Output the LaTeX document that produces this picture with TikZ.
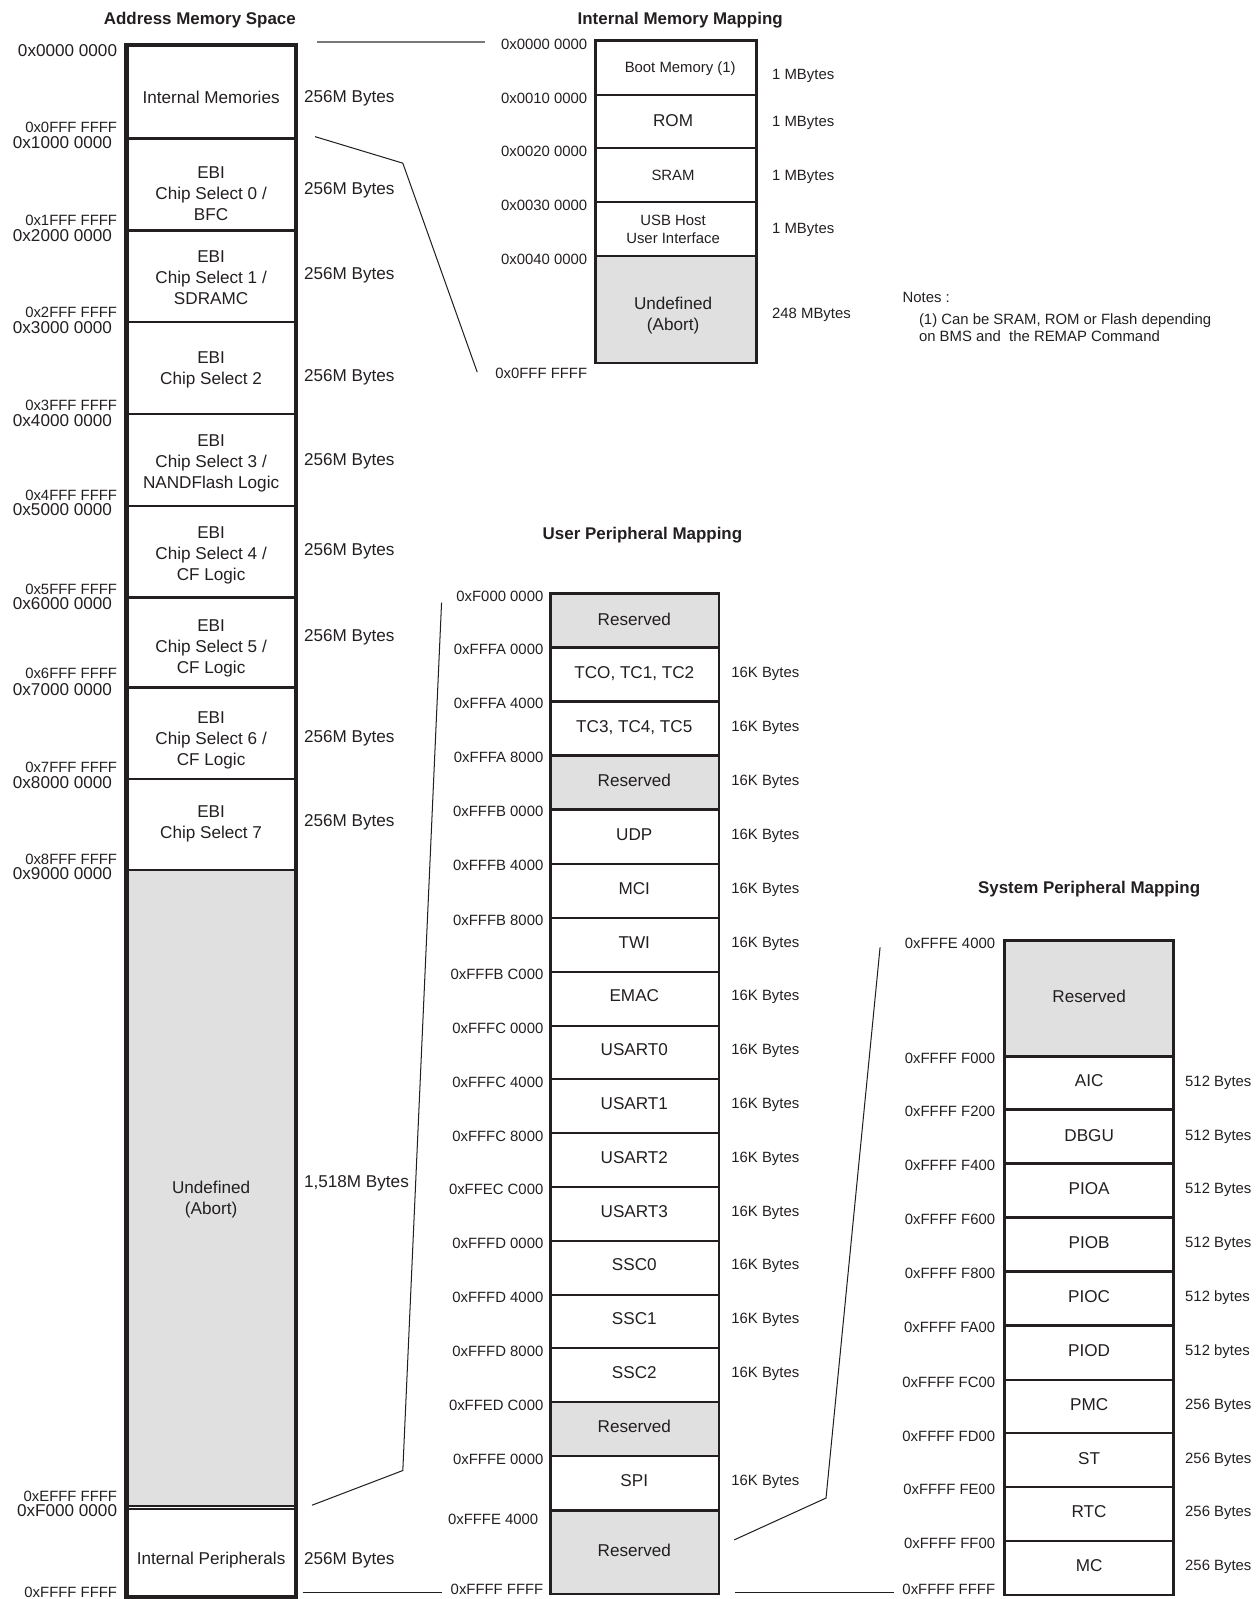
\documentclass[tikz,border=0pt]{standalone}
\usepackage{fontspec}
\setmainfont{Liberation Sans}
\definecolor{ink}{RGB}{35,31,32}
\definecolor{resgray}{RGB}{224,224,224}
\definecolor{leadgray}{RGB}{120,120,120}

\begin{document}
\begin{tikzpicture}[x=1pt, y=-1pt,
                    big/.style={font=\fontsize{16.8}{20.5}\selectfont, inner sep=0pt, text=ink, text depth=0pt},
                    small/.style={font=\fontsize{14.6}{17.5}\selectfont, inner sep=0pt, text=ink, text depth=0pt},
                    head/.style={font=\fontsize{16.6}{20}\selectfont\bfseries, inner sep=0pt, text=ink},
                    cellrule/.style={draw=ink, line width=2.4pt},
                    frame/.style={draw=ink, line width=2.6pt},
                    zoomline/.style={draw=ink, line width=1pt},
                    reserved/.style={fill=resgray},
                ]
\useasboundingbox (0,0) rectangle (1232,1568);

% Address Memory Space
\node[head] (ams) at (196,20) {Address Memory Space};
\fill[reserved] (124,853) rectangle (290,1478);
\foreach \y in {136,226,316,406,496,586,674,764,853}
    \draw[cellrule] (124,\y) -- (290,\y);
\draw[draw=ink, line width=1.8pt] (124,1476.5) -- (290,1476.5) (124,1480) -- (290,1480);
\draw[draw=ink, line width=4.2pt] (124,44) rectangle (290,1566);
\foreach \y/\txt [count=\i] in {95/Internal Memories,
                                190/{EBI\\Chip Select 0 /\\BFC},
                                272/{EBI\\Chip Select 1 /\\SDRAMC},
                                361/{EBI\\Chip Select 2},
                                453/{EBI\\Chip Select 3 /\\NANDFlash Logic},
                                543/{EBI\\Chip Select 4 /\\CF Logic},
                                634/{EBI\\Chip Select 5 /\\CF Logic},
                                724/{EBI\\Chip Select 6 /\\CF Logic},
                                806/{EBI\\Chip Select 7},
                                1175/{Undefined\\(Abort)},
                                1528/Internal Peripherals}
    \node[big, align=center] (ams-\i) at (207,\y) {\txt};
\foreach \y/\txt [count=\i] in {95/256M Bytes, 185/256M Bytes, 268/256M Bytes,
                                368/256M Bytes, 451/256M Bytes, 539/256M Bytes,
                                623/256M Bytes, 722/256M Bytes, 805/256M Bytes,
                                1159/{1,518M Bytes}, 1528/256M Bytes}
    \node[big, anchor=west] (ams-size-\i) at (298,\y) {\txt};
\node[big, anchor=east] (ams-a0) at (115,50) {0x0000 0000};
\foreach \ya/\yb/\hi/\lo [count=\i] in {125/140/0/1, 216/231/1/2, 306/321/2/3,
                                        397/412/3/4, 486/500/4/5, 578/592/5/6,
                                        660/676/6/7, 752/767/7/8, 843/857/8/9} {
    \node[small, anchor=east] (ams-end-\i) at (115,\ya) {0x\hi FFF FFFF};
    \node[big, anchor=east] (ams-start-\i) at (110,\yb) {0x\lo 000 0000};
}
\node[small, anchor=east] (ams-end-e) at (115,1467) {0xEFFF FFFF};
\node[big, anchor=east] (ams-start-f) at (115,1481) {0xF000 0000};
\node[small, anchor=east] (ams-end-f) at (115,1561) {0xFFFF FFFF};

% Internal Memory Mapping
\node[head] (imm) at (667,20) {Internal Memory Mapping};
\fill[reserved] (584,251) rectangle (742,356);
\foreach \y in {93,145,198,251}
    \draw[cellrule] (584,\y) -- (742,\y);
\draw[frame] (584,40) rectangle (742,356);
\node[small] (imm-1) at (667,66) {Boot Memory (1)};
\node[big] (imm-2) at (660,118) {ROM};
\node[small] (imm-3) at (660,172) {SRAM};
\node[small, align=center] (imm-4) at (660,225) {USB Host\\User Interface};
\node[big, align=center] (imm-5) at (660,308) {Undefined\\(Abort)};
\foreach \y/\txt [count=\i] in {43/0x0000 0000, 96/0x0010 0000, 148/0x0020 0000,
                                201/0x0030 0000, 254/0x0040 0000, 366/0x0FFF FFFF}
    \node[small, anchor=east] (imm-a\i) at (576,\y) {\txt};
\foreach \y/\txt [count=\i] in {73/1 MBytes, 119/1 MBytes, 172/1 MBytes,
                                224/1 MBytes, 307/248 MBytes}
    \node[small, anchor=west] (imm-size-\i) at (757,\y) {\txt};
\node[small, anchor=west] (notes) at (885,292) {Notes :};
\node[small, anchor=north west, align=left] (note-1) at (901,307)
    {(1) Can be SRAM, ROM or Flash depending\\on BMS and~ the REMAP Command};

% User Peripheral Mapping
\node[head] (upm) at (630,525) {User Peripheral Mapping};
\foreach \ya/\yb in {582/635, 741/794, 1375/1428, 1481/1563}
    \fill[reserved] (540,\ya) rectangle (705,\yb);
\foreach \y in {635,688,741,794,847,900,953,1006,1058,1111,1164,1217,1270,1322,1375,1428,1481}
    \draw[cellrule] (540,\y) -- (705,\y);
\draw[frame] (540,582) rectangle (705,1563);
\foreach \y/\txt [count=\i] in {607/Reserved, 659/{TCO, TC1, TC2}, 712/{TC3, TC4, TC5},
                                765/Reserved, 818/UDP, 871/MCI, 924/TWI, 976/EMAC,
                                1029/USART0, 1082/USART1, 1135/USART2, 1188/USART3,
                                1240/SSC0, 1293/SSC1, 1346/SSC2, 1399/Reserved,
                                1452/SPI, 1520/Reserved}
    \node[big] (upm-\i) at (622,\y) {\txt};
\foreach \y/\txt [count=\i] in {585/0xF000 0000, 637/0xFFFA 0000, 690/0xFFFA 4000,
                                743/0xFFFA 8000, 796/0xFFFB 0000, 849/0xFFFB 4000,
                                902/0xFFFB 8000, 955/0xFFFB C000, 1008/0xFFFC 0000,
                                1061/0xFFFC 4000, 1114/0xFFFC 8000, 1166/0xFFEC C000,
                                1219/0xFFFD 0000, 1272/0xFFFD 4000, 1325/0xFFFD 8000,
                                1378/0xFFED C000, 1431/0xFFFE 0000, 1558/0xFFFF FFFF}
    \node[small, anchor=east] (upm-a\i) at (533,\y) {\txt};
\node[small, anchor=east] (upm-a-spi) at (528,1490) {0xFFFE 4000};
\foreach \y [count=\i] in {659,712,765,818,871,924,976,1029,1082,1135,1188,1240,1293,1346,1452}
    \node[small, anchor=west] (upm-size-\i) at (717,\y) {16K Bytes};

% System Peripheral Mapping
\node[head] (spm) at (1068,872) {System Peripheral Mapping};
\fill[reserved] (985,922) rectangle (1151,1036);
\foreach \y in {1036,1088,1141,1194,1247,1300,1353,1405,1458,1511}
    \draw[cellrule] (985,\y) -- (1151,\y);
\draw[frame] (985,922) rectangle (1151,1564);
\foreach \y/\txt [count=\i] in {977/Reserved, 1060/AIC, 1113/DBGU, 1165/PIOA, 1218/PIOB,
                                1271/PIOC, 1324/PIOD, 1377/PMC, 1430/ST, 1482/RTC, 1535/MC}
    \node[big] (spm-\i) at (1068,\y) {\txt};
\foreach \y/\txt [count=\i] in {925/0xFFFE 4000, 1038/0xFFFF F000, 1090/0xFFFF F200,
                                1143/0xFFFF F400, 1196/0xFFFF F600, 1249/0xFFFF F800,
                                1302/0xFFFF FA00, 1355/0xFFFF FC00, 1408/0xFFFF FD00,
                                1460/0xFFFF FE00, 1513/0xFFFF FF00, 1558/0xFFFF FFFF}
    \node[small, anchor=east] (spm-a\i) at (976,\y) {\txt};
\foreach \y/\txt [count=\i] in {1060/512 Bytes, 1113/512 Bytes, 1165/512 Bytes,
                                1218/512 Bytes, 1271/512 bytes, 1324/512 bytes,
                                1377/256 Bytes, 1430/256 Bytes, 1482/256 Bytes, 1535/256 Bytes}
    \node[small, anchor=west] (spm-size-\i) at (1162,\y) {\txt};

% zoom leaders
\coordinate (ams-top) at (311,41);
\coordinate (imm-top) at (476,41);
\coordinate (ams-im-end) at (309,134);
\coordinate (imm-bend) at (395,160);
\coordinate (imm-bot) at (468,365);
\coordinate (ams-ip) at (306,1476);
\coordinate (upm-bend) at (395,1442);
\coordinate (upm-top) at (433,591);
\coordinate (ams-bot) at (297,1562);
\coordinate (upm-bot) at (433,1562);
\coordinate (upm-sys) at (720,1510);
\coordinate (spm-bend) at (810,1469);
\coordinate (spm-top) at (863,929);
\coordinate (upm-bot-r) at (721,1562);
\coordinate (spm-bot) at (877,1562);
\draw[draw=leadgray, line width=1.6pt] (ams-top) -- (imm-top);
\draw[zoomline] (ams-im-end) -- (imm-bend) -- (imm-bot);
\draw[zoomline] (ams-ip) -- (upm-bend) -- (upm-top);
\draw[zoomline] (ams-bot) -- (upm-bot);
\draw[zoomline] (upm-sys) -- (spm-bend) -- (spm-top);
\draw[zoomline] (upm-bot-r) -- (spm-bot);
\end{tikzpicture}
\end{document}
